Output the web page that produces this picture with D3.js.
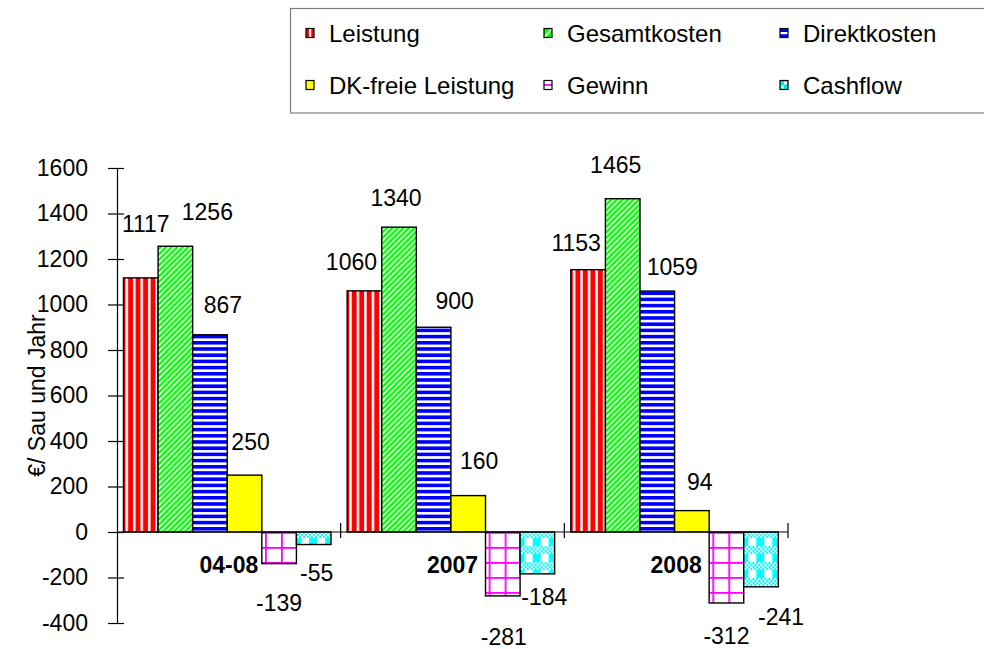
<!DOCTYPE html>
<html>
<head>
<meta charset="utf-8">
<script src="https://cdn.jsdelivr.net/npm/d3@7/dist/d3.min.js"></script>
<style>
  html, body { margin: 0; padding: 0; background: #fff; }
  svg { display: block; font-family: "Liberation Sans", Arial, sans-serif; }
</style>
</head>
<body>
<svg id="chart" width="984" height="649"></svg>
<script>
// Kennzahlen je Sau und Jahr
const categories = ["04-08", "2007", "2008"];
const seriesNames = ["Leistung", "Gesamtkosten", "Direktkosten", "DK-freie Leistung", "Gewinn", "Cashflow"];
const leistung      = [1117, 1060, 1153];
const gesamtkosten  = [1256, 1340, 1465];
const direktkosten  = [867, 900, 1059];
const dkFreie       = [250, 160, 94];
const gewinn        = [-139, -281, -312];
const cashflow      = [-55, -184, -241];
const yTicks = [-400, -200, 0, 200, 400, 600, 800, 1000, 1200, 1400, 1600];
const yTitle = "€/ Sau und Jahr";

const seriesValues = [leistung, gesamtkosten, direktkosten, dkFreie, gewinn, cashflow];

// nudges (px) that keep the value labels clear of each other: [dx, dy] per series, per category
const labelNudge = [
  [[5, -54], [-13, -29], [-12, -27]],
  [[32, -35], [-3, -29], [-7, -34]],
  [[13, -30], [21, -27], [15, -24]],
  [[6, -33], [11, -35], [8, -29]],
  [[0, 39], [1, 41], [0, 33]],
  [[3, 28], [7, 23], [20, 30]]
];

const svg = d3.select("#chart");
const plot = { left: 117, right: 788, top: 168, bottom: 623 };

const x = d3.scaleBand().domain(categories).range([plot.left, plot.right]).padding(0);
const xInner = d3.scaleBand().domain(seriesNames).range([6.5, 214]).padding(0);
const y = d3.scaleLinear().domain([-400, 1600]).range([plot.bottom, plot.top]);

// ---- fill patterns ----
const defs = svg.append("defs");

function pattern(id, w, h, transform) {
  const p = defs.append("pattern").attr("id", id)
    .attr("patternUnits", "userSpaceOnUse")
    .attr("width", w).attr("height", h);
  if (transform) p.attr("patternTransform", transform);
  return p;
}

// red with white vertical stripes
const pLeistung = pattern("p-leistung", 7.5, 8);
pLeistung.append("rect").attr("width", 7.5).attr("height", 8).attr("fill", "#ff0000");
pLeistung.append("rect").attr("x", 1).attr("width", 2.5).attr("height", 8).attr("fill", "#ffffff");

// green with white upward diagonals
const pGesamt = pattern("p-gesamt", 3.9, 3.9, "rotate(45)");
pGesamt.append("rect").attr("width", 3.9).attr("height", 3.9).attr("fill", "#00ff00");
pGesamt.append("rect").attr("width", 1.5).attr("height", 3.9).attr("fill", "#ffffff");

// blue with white horizontal stripes
const pDirekt = pattern("p-direkt", 8, 6.2);
pDirekt.append("rect").attr("width", 8).attr("height", 6.2).attr("fill", "#0000ff");
pDirekt.append("rect").attr("y", 3.6).attr("width", 8).attr("height", 2.6).attr("fill", "#ffffff");

// white with a large magenta grid
const pGewinn = pattern("p-gewinn", 16, 15);
pGewinn.append("rect").attr("width", 16).attr("height", 15).attr("fill", "#ffffff");
pGewinn.append("rect").attr("x", 4).attr("width", 1.8).attr("height", 15).attr("fill", "#ff00ff");
pGewinn.append("rect").attr("y", 7).attr("width", 16).attr("height", 1.8).attr("fill", "#ff00ff");

// cyan plaid: a checkered band above a solid / white band
const pCash = pattern("p-cash", 16, 16, "translate(0,2)");
pCash.append("rect").attr("width", 16).attr("height", 16).attr("fill", "#ffffff");
d3.range(4).forEach(r => d3.range(8).forEach(c => {
  if ((r + c) % 2 === 0) {
    pCash.append("rect").attr("x", c * 2).attr("y", r * 2)
      .attr("width", 2).attr("height", 2).attr("fill", "#00ffff");
  }
}));
pCash.append("rect").attr("y", 8).attr("width", 8).attr("height", 8).attr("fill", "#00ffff");

const fills = ["url(#p-leistung)", "url(#p-gesamt)", "url(#p-direkt)", "#ffff00", "url(#p-gewinn)", "url(#p-cash)"];

// ---- legend ----
const legend = svg.append("g");
legend.append("rect")
  .attr("x", 290.5).attr("y", 8.5).attr("width", 720).attr("height", 104.5)
  .attr("fill", "#ffffff").attr("stroke", "#7f7f7f").attr("stroke-width", 1.2);

const legendCols = [306, 544, 780];
const legendRows = [33, 85];
const sw = 8, sh = 9;

// small key symbols, each a miniature of its bar fill
const keyDraw = [
  g => { g.append("rect").attr("width", sw).attr("height", sh).attr("fill", "#ff0000");
         g.append("rect").attr("x", 3).attr("width", 2.2).attr("height", sh).attr("fill", "#fff"); },
  g => { g.append("rect").attr("width", sw).attr("height", sh).attr("fill", "#00ff00");
         g.append("line").attr("x1", 0).attr("y1", sh).attr("x2", sw).attr("y2", 0)
           .attr("stroke", "#fff").attr("stroke-width", 1.8); },
  g => { g.append("rect").attr("width", sw).attr("height", sh).attr("fill", "#0000ff");
         g.append("rect").attr("y", 3.5).attr("width", sw).attr("height", 2.2).attr("fill", "#fff"); },
  g => { g.append("rect").attr("width", sw).attr("height", sh).attr("fill", "#ffff00"); },
  g => { g.append("rect").attr("width", sw).attr("height", sh).attr("fill", "#fff");
         g.append("rect").attr("y", 3.6).attr("width", sw).attr("height", 1.8).attr("fill", "#ff00ff"); },
  g => { g.append("rect").attr("width", sw).attr("height", sh).attr("fill", "#00e8e8");
         g.append("rect").attr("x", 4).attr("y", 1).attr("width", 3).attr("height", 3).attr("fill", "#fff");
         g.append("rect").attr("x", 1).attr("y", 5).attr("width", 3).attr("height", 3).attr("fill", "#bff"); }
];

seriesNames.forEach((name, i) => {
  const cx = legendCols[i % 3];
  const cy = legendRows[Math.floor(i / 3)];
  const key = legend.append("g").attr("transform", `translate(${cx},${cy - sh / 2})`);
  keyDraw[i](key);
  key.append("rect").attr("width", sw).attr("height", sh)
    .attr("fill", "none").attr("stroke", "#000").attr("stroke-width", 1.2);
  legend.append("text")
    .attr("x", cx + 23).attr("y", cy).attr("dy", "0.36em")
    .attr("font-size", 24).text(name);
});

// ---- bars ----
const groups = svg.append("g").selectAll("g")
  .data(categories)
  .join("g")
  .attr("transform", c => `translate(${x(c)},0)`);

groups.each(function(cat, ci) {
  const g = d3.select(this);
  seriesNames.forEach((s, si) => {
    const v = seriesValues[si][ci];
    g.append("rect")
      .attr("x", xInner(s))
      .attr("y", y(Math.max(0, v)))
      .attr("width", xInner.bandwidth())
      .attr("height", Math.abs(y(v) - y(0)))
      .attr("fill", fills[si])
      .attr("stroke", "#000")
      .attr("stroke-width", 1.4);
  });
});

// ---- axes ----
const yAxis = svg.append("g")
  .attr("transform", `translate(${plot.left},0)`)
  .call(d3.axisLeft(y).tickValues(yTicks).tickSize(9).tickSizeOuter(0).tickPadding(20).tickFormat(d3.format("d")));
yAxis.select(".domain").attr("stroke", "#000").attr("stroke-width", 1.2);
yAxis.selectAll(".tick line").attr("x1", 7).attr("x2", -9).attr("stroke-width", 1.2);
yAxis.selectAll(".tick text")
  .attr("font-size", 23).attr("font-family", "Liberation Sans, Arial, sans-serif")
  .attr("fill", "#000")
  .text(d => d < 0 ? "-" + Math.abs(d) : d);

// category axis along zero
const xAxis = svg.append("g");
xAxis.append("line")
  .attr("x1", plot.left).attr("x2", plot.right)
  .attr("y1", y(0)).attr("y2", y(0))
  .attr("stroke", "#000").attr("stroke-width", 1.2);
const boundaries = categories.map(c => x(c) + x.bandwidth());
xAxis.selectAll("line.tick")
  .data(boundaries)
  .join("line")
  .attr("class", "tick")
  .attr("x1", d => d).attr("x2", d => d)
  .attr("y1", y(0) - 9).attr("y2", y(0) + 6)
  .attr("stroke", "#000").attr("stroke-width", 1.2);
xAxis.selectAll("text")
  .data(categories)
  .join("text")
  .attr("x", c => x(c) + x.bandwidth() / 2)
  .attr("y", y(0) + 41)
  .attr("text-anchor", "middle")
  .attr("font-size", 23).attr("font-weight", "bold")
  .text(c => c);

// ---- value labels ----
const labels = svg.append("g").attr("font-size", 23).attr("text-anchor", "middle");
categories.forEach((cat, ci) => {
  seriesNames.forEach((s, si) => {
    const v = seriesValues[si][ci];
    const [dx, dy] = labelNudge[si][ci];
    labels.append("text")
      .attr("x", x(cat) + xInner(s) + xInner.bandwidth() / 2 + dx)
      .attr("y", y(v) + dy)
      .attr("dy", "0.36em")
      .text(v < 0 ? "-" + Math.abs(v) : v);
  });
});

// ---- y axis title ----
svg.append("text")
  .attr("transform", `translate(45,${(plot.top + plot.bottom) / 2}) rotate(-90)`)
  .attr("text-anchor", "middle")
  .attr("font-size", 23)
  .text(yTitle);
</script>
</body>
</html>
